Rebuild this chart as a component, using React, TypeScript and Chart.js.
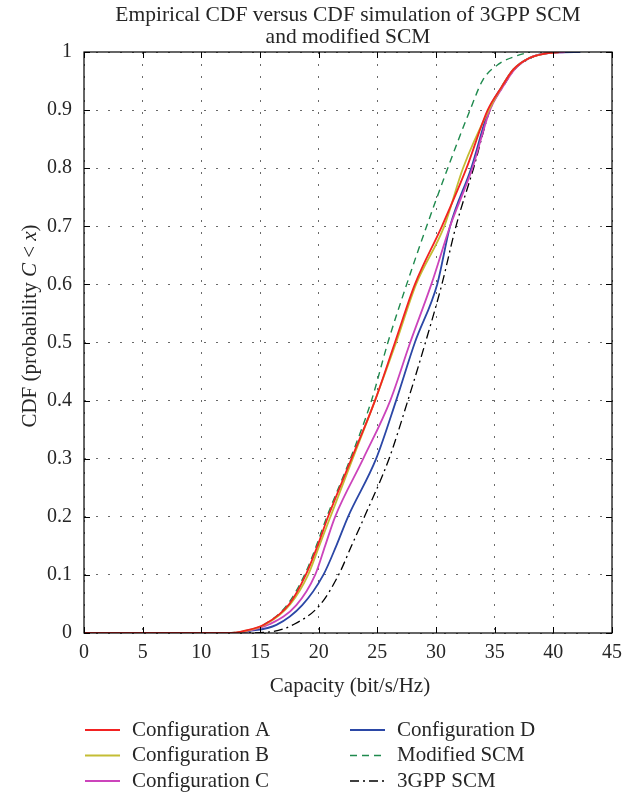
import React, { useEffect, useRef } from "react";
import { Chart, registerables } from "chart.js";

Chart.register(...registerables);

// ---------- data (capacity [bit/s/Hz], CDF) ----------
const titleLines = ["Empirical CDF versus CDF simulation of 3GPP SCM", "and modified SCM"];
const xAxisTitle = "Capacity (bit/s/Hz)";
const xTickValues = [0, 5, 10, 15, 20, 25, 30, 35, 40, 45];
const yTickValues = [0, 0.1, 0.2, 0.3, 0.4, 0.5, 0.6, 0.7, 0.8, 0.9, 1];

const configA: [number, number][] = [
  [0, 0], [12.5, 0], [13.5, 0.003], [15.4, 0.015], [17.5, 0.05], [18.9, 0.1], [19.9, 0.15],
  [20.8, 0.2], [22.8, 0.3], [24.8, 0.4], [26.5, 0.5], [28.2, 0.6], [30.5, 0.7], [32.6, 0.8],
  [34.4, 0.9], [35.6, 0.94], [36.6, 0.97], [38.0, 0.99], [39.2, 0.997], [40.5, 1.0],
];
const configB: [number, number][] = [
  [0, 0], [12.5, 0], [13.6, 0.003], [15.5, 0.015], [17.6, 0.05], [19.1, 0.1], [20.05, 0.15],
  [21.0, 0.2], [22.9, 0.3], [24.8, 0.4], [26.6, 0.5], [28.3, 0.6], [30.7, 0.7], [32.3, 0.8],
  [34.5, 0.9], [35.6, 0.94], [36.6, 0.97], [38.0, 0.99], [39.5, 0.998], [40.5, 1.0],
];
const configC: [number, number][] = [
  [0, 0], [12.5, 0], [13.8, 0.003], [15.8, 0.015], [18.1, 0.048], [19.7, 0.1], [20.55, 0.15],
  [21.4, 0.2], [23.8, 0.3], [26.1, 0.4], [27.8, 0.5], [29.6, 0.6], [31.2, 0.7], [33.1, 0.8],
  [34.6, 0.9], [35.7, 0.94], [36.7, 0.97], [38.0, 0.99], [39.5, 0.998], [41.0, 1.0],
];
const configD: [number, number][] = [
  [0, 0], [12.8, 0], [14.0, 0.003], [16.4, 0.014], [18.6, 0.048], [20.4, 0.1], [21.5, 0.15],
  [22.5, 0.2], [24.9, 0.3], [26.6, 0.4], [28.2, 0.5], [30.1, 0.6], [31.2, 0.7], [33.0, 0.8],
  [34.5, 0.9], [35.6, 0.94], [36.6, 0.97], [38.0, 0.99], [40.0, 0.999], [42.3, 1.0],
];
const modifiedSCM: [number, number][] = [
  [0, 0], [12.0, 0], [13.3, 0.002], [15.3, 0.014], [17.3, 0.048], [18.8, 0.1], [19.8, 0.15],
  [20.7, 0.2], [22.7, 0.3], [24.5, 0.4], [25.9, 0.5], [27.5, 0.6], [29.2, 0.7], [31.0, 0.8],
  [32.9, 0.9], [34.0, 0.952], [35.4, 0.98], [36.8, 0.993], [38.0, 1.0],
];
const gppSCM: [number, number][] = [
  [0, 0], [13.5, 0], [15.9, 0.002], [17.8, 0.014], [20.1, 0.048], [21.7, 0.1], [22.8, 0.15],
  [23.9, 0.2], [26.0, 0.3], [27.6, 0.4], [29.1, 0.5], [30.5, 0.6], [31.7, 0.7], [33.2, 0.8],
  [34.6, 0.9], [35.7, 0.94], [36.7, 0.97], [38.1, 0.99], [39.7, 1.0],
];

const seriesLabels = [
  "Configuration A", "Configuration B", "Configuration C",
  "Configuration D", "Modified SCM", "3GPP SCM",
];
const seriesData = [configA, configB, configC, configD, modifiedSCM, gppSCM];
const seriesColors = ["#f22222", "#c4bd35", "#cc44bb", "#2b47a6", "#1f8a4e", "#000000"];
const seriesDash: number[][] = [[], [], [], [], [7, 5], [9, 4, 2, 4]];
const seriesWidth = [1.8, 1.8, 1.8, 1.8, 1.4, 1.3];

const FONT = '"Liberation Serif", "Times New Roman", serif';
const TEXT = "#262626";

const decorPlugin = {
  id: "decor",
  afterDraw(chart: any) {
    const { ctx, chartArea: a, scales } = chart;
    const sx = scales.x;
    const sy = scales.y;
    ctx.save();

    // box
    ctx.strokeStyle = "#000";
    ctx.lineWidth = 1.2;
    ctx.setLineDash([]);
    ctx.strokeRect(a.left, a.top, a.right - a.left, a.bottom - a.top);

    // inward tick marks on all four sides
    const tl = 6;
    ctx.lineWidth = 1;
    ctx.beginPath();
    for (const v of xTickValues) {
      const px = Math.round(sx.getPixelForValue(v)) + 0.5;
      ctx.moveTo(px, a.bottom);
      ctx.lineTo(px, a.bottom - tl);
      ctx.moveTo(px, a.top);
      ctx.lineTo(px, a.top + tl);
    }
    for (const v of yTickValues) {
      const py = Math.round(sy.getPixelForValue(v)) + 0.5;
      ctx.moveTo(a.left, py);
      ctx.lineTo(a.left + tl, py);
      ctx.moveTo(a.right, py);
      ctx.lineTo(a.right - tl, py);
    }
    ctx.stroke();

    // title
    ctx.fillStyle = TEXT;
    ctx.font = `21.5px ${FONT}`;
    ctx.textAlign = "center";
    ctx.textBaseline = "middle";
    const cx = (a.left + a.right) / 2;
    ctx.fillText(titleLines[0], cx, 15);
    ctx.fillText(titleLines[1], cx, 37);

    // x axis title
    ctx.font = `21px ${FONT}`;
    ctx.fillText(xAxisTitle, cx + 2, 686);

    // y axis title with italic parts
    const parts: [string, boolean][] = [
      ["CDF (probability ", false], ["C", true], [" < ", false], ["x", true], [")", false],
    ];
    const fontN = `21px ${FONT}`;
    const fontI = `italic 21px ${FONT}`;
    let total = 0;
    const widths = parts.map(([t, it]) => {
      ctx.font = it ? fontI : fontN;
      const w = ctx.measureText(t).width;
      total += w;
      return w;
    });
    ctx.save();
    ctx.translate(30, 326);
    ctx.rotate(-Math.PI / 2);
    ctx.textAlign = "left";
    let pos = -total / 2;
    parts.forEach(([t, it], i) => {
      ctx.font = it ? fontI : fontN;
      ctx.fillText(t, pos, 0);
      pos += widths[i];
    });
    ctx.restore();

    // legend (two columns)
    const cols = [85, 350];
    const rows = [730, 755.5, 781];
    ctx.font = `21px ${FONT}`;
    ctx.textAlign = "left";
    ctx.textBaseline = "middle";
    chart.data.datasets.forEach((ds: any, i: number) => {
      const col = Math.floor(i / 3);
      const row = i % 3;
      const x0 = cols[col];
      const y0 = rows[row];
      ctx.strokeStyle = ds.borderColor;
      ctx.lineWidth = ds.borderWidth;
      ctx.setLineDash(ds.borderDash || []);
      ctx.beginPath();
      ctx.moveTo(x0, y0);
      ctx.lineTo(x0 + 35, y0);
      ctx.stroke();
      ctx.setLineDash([]);
      ctx.fillStyle = TEXT;
      ctx.fillText(ds.label, x0 + 47, y0);
    });

    ctx.restore();
  },
};

export default function App() {
  const ref = useRef<HTMLCanvasElement>(null);

  useEffect(() => {
    const canvas = ref.current;
    if (!canvas) return;
    const chart = new Chart(canvas, {
      type: "line",
      data: {
        datasets: seriesLabels.map((label, i) => ({
          label,
          data: seriesData[i].map(([x, y]) => ({ x, y })),
          borderColor: seriesColors[i],
          backgroundColor: seriesColors[i],
          borderWidth: seriesWidth[i],
          borderDash: seriesDash[i],
          pointRadius: 0,
          fill: false,
          cubicInterpolationMode: "monotone" as const,
        })),
      },
      options: {
        responsive: false,
        animation: false,
        devicePixelRatio: 1,
        layout: { padding: { top: 52, right: 26, bottom: 106, left: 0 } },
        plugins: {
          legend: { display: false },
          title: { display: false },
          tooltip: { enabled: false },
        },
        scales: {
          x: {
            type: "linear",
            min: 0,
            max: 45,
            afterFit: (s: any) => { s.height = 60; },
            ticks: {
              stepSize: 5,
              padding: 8,
              color: TEXT,
              font: { family: FONT, size: 20 },
              maxRotation: 0,
            },
            grid: { color: "#6a6a6a", lineWidth: 1, drawTicks: false },
            border: { display: false, dash: [2, 10] },
          },
          y: {
            type: "linear",
            min: 0,
            max: 1,
            afterFit: (s: any) => { s.width = 84; },
            ticks: {
              stepSize: 0.1,
              padding: 12,
              color: TEXT,
              font: { family: FONT, size: 20 },
              callback: (v: any) => {
                const n = Number(v);
                if (Math.abs(n) < 1e-9) return "0";
                if (Math.abs(n - 1) < 1e-9) return "1";
                return n.toFixed(1);
              },
            },
            grid: { color: "#6a6a6a", lineWidth: 1, drawTicks: false },
            border: { display: false, dash: [2, 10] },
          },
        },
      },
      plugins: [decorPlugin],
    });
    return () => chart.destroy();
  }, []);

  return (
    <div style={{ position: "absolute", left: 0, top: 0, width: 638, height: 799, background: "#fff" }}>
      <canvas ref={ref} width={638} height={799} style={{ display: "block" }} />
    </div>
  );
}
